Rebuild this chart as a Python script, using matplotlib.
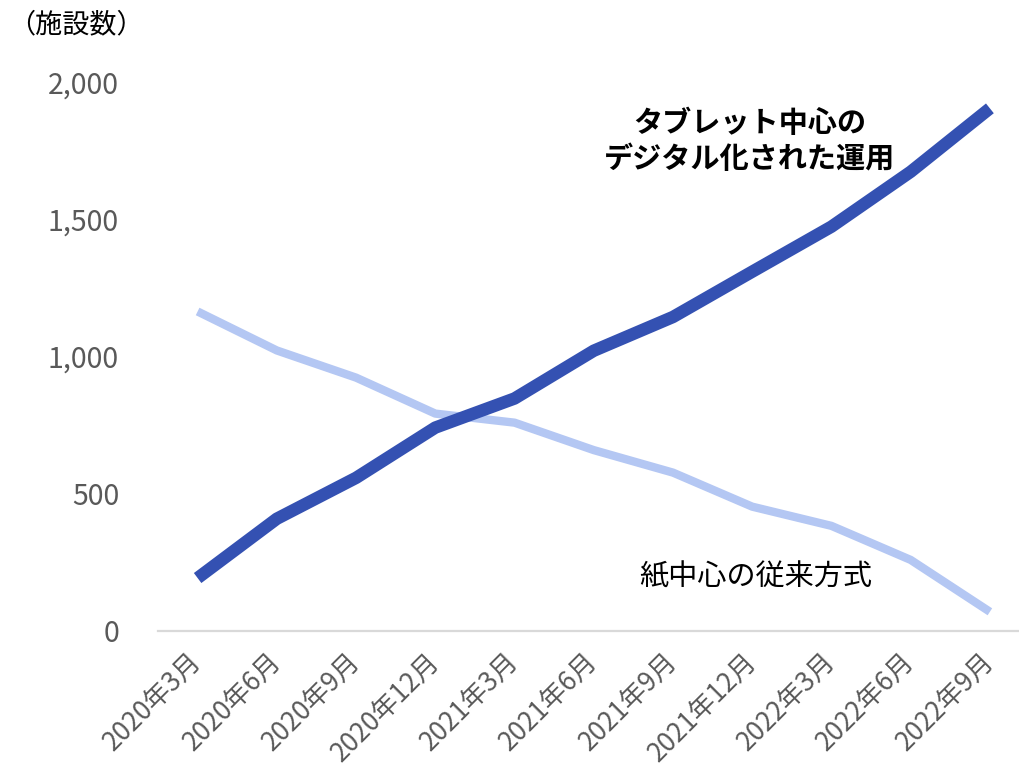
import matplotlib.pyplot as plt

plt.rcParams['font.family'] = ['Noto Sans CJK JP', 'DejaVu Sans']

# 四半期ごとの施設数
months = ['2020年3月', '2020年6月', '2020年9月', '2020年12月',
          '2021年3月', '2021年6月', '2021年9月', '2021年12月',
          '2022年3月', '2022年6月', '2022年9月']
tablet = [193, 409, 558, 741, 847, 1021, 1144, 1309, 1473, 1673, 1904]
paper = [1164, 1022, 923, 792, 759, 659, 577, 453, 383, 259, 70]

dark_blue = '#3451B2'
light_blue = '#B4C7F3'
tick_gray = '#595959'

fig = plt.figure(figsize=(10.2, 7.76), dpi=100)
ax = fig.add_axes([158 / 1020, 145 / 776, 862 / 1020, 549 / 776])

x = range(len(months))
ax.plot(x, paper, color=light_blue, linewidth=6, solid_capstyle='butt',
        solid_joinstyle='round')
ax.plot(x, tablet, color=dark_blue, linewidth=9, solid_capstyle='butt',
        solid_joinstyle='round')

ax.set_xlim(-0.5, 10.38)
ax.set_ylim(0, 2000)
ax.set_yticks([0, 500, 1000, 1500, 2000])
ax.set_yticklabels(['0', '500', '1,000', '1,500', '2,000'])
ax.set_xticks(list(x))
ax.set_xticklabels(months, rotation=45, ha='right', va='center',
                   rotation_mode='anchor')

ax.tick_params(axis='y', length=0, pad=28, labelsize=20.5, labelcolor=tick_gray)
ax.tick_params(axis='x', length=0, pad=19, labelsize=19, labelcolor=tick_gray)

for side in ['top', 'right', 'left']:
    ax.spines[side].set_visible(False)
ax.spines['bottom'].set_color('#D9D9D9')
ax.spines['bottom'].set_linewidth(1.6)

ax.text(6.97, 1785, 'タブレット中心の\nデジタル化された運用', ha='center', va='center',
        fontsize=21, fontweight='bold', color='black', linespacing=1.25)
ax.text(7.05, 195, '紙中心の従来方式', ha='center', va='center',
        fontsize=21, color='black')

fig.text(8 / 1020, 1 - 25 / 776, '（施設数）', ha='left', va='center',
         fontsize=19.5, color='black')

fig.savefig('out.png', dpi=100)
